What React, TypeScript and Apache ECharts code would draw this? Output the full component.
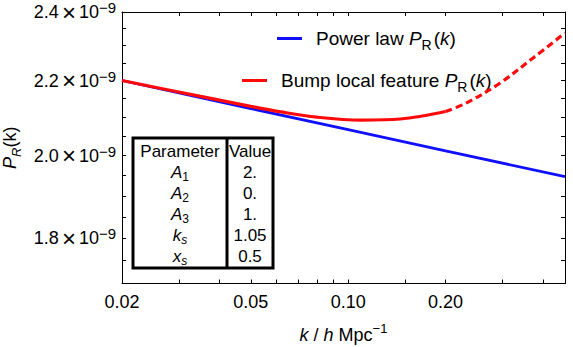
import React, { useEffect, useRef } from 'react';
import * as echarts from 'echarts';

// ---- axes (k in h/Mpc, P in units of 1e-9) ----
const xMin = 0.02;
const xMax = 0.468;
const yMin = 1.7;
const yMax = 2.4;
const xMajorTicks = [0.02, 0.05, 0.1, 0.2];
const xMajorLabels = ['0.02', '0.05', '0.10', '0.20'];
const xMinorTicks = [0.03, 0.04, 0.06, 0.07, 0.08, 0.09, 0.15, 0.3, 0.4];
const yMajorTicks = [1.8, 2.0, 2.2, 2.4];
const yMajorLabels = ['1.8', '2.0', '2.2', '2.4'];
const yMinorTicks = [1.75, 1.85, 1.9, 1.95, 2.05, 2.1, 2.15, 2.25, 2.3, 2.35];
const yExponent = '−9';

// ---- series ----
const kPower = [0.02, 0.05, 0.1, 0.2, 0.468];
const pPower = [2.2, 2.123, 2.067, 2.012, 1.947];

const kBumpSolid = [0.02, 0.035, 0.05, 0.062, 0.08, 0.11, 0.145, 0.2];
const pBumpSolid = [2.2, 2.156, 2.129, 2.114, 2.1, 2.092, 2.095, 2.115];

const kBumpDashed = [0.2, 0.233, 0.295, 0.373, 0.468];
const pBumpDashed = [2.115, 2.139, 2.193, 2.264, 2.337];

// ---- parameter table ----
const tableHeader = ['Parameter', 'Value'];
const paramSymbols = ['A', 'A', 'A', 'k', 'x'];
const paramSubs = ['1', '2', '3', 's', 's'];
const paramSubItalic = [false, false, false, true, true];
const paramValues = ['2.', '0.', '1.', '1.05', '0.5'];

const FONT = '"Liberation Sans", Arial, Helvetica, sans-serif';
const ln = Math.log;

function nearestIndex(arr: number[], v: number) {
  let best = 0;
  let bd = Infinity;
  arr.forEach((a, i) => {
    const d = Math.abs(ln(a) - v);
    if (d < bd) {
      bd = d;
      best = i;
    }
  });
  return best;
}

export default function App() {
  const ref = useRef<HTMLDivElement>(null);

  useEffect(() => {
    if (!ref.current) return;
    const chart = echarts.init(ref.current, undefined, { renderer: 'svg' });

    const gridLeft = 122;
    const gridTop = 12;
    const gridRight = 565;
    const gridBottom = 283.5;

    const axisLineStyle = { color: '#000', width: 1 };
    const xTicks = [...xMajorTicks, ...xMinorTicks].map(ln);
    const yTicks = [...yMajorTicks, ...yMinorTicks].map(ln);

    const mainRich = {
      m: { fontSize: 18, lineHeight: 24, fontFamily: FONT, color: '#000' },
      x: { fontSize: 24, lineHeight: 24, fontFamily: FONT, color: '#000', padding: [0, 3, 0, 3] },
      s: { fontSize: 15, lineHeight: 12, fontFamily: FONT, color: '#000', verticalAlign: 'top' },
    };

    const legendRich = {
      g: { width: 9, fontSize: 19, lineHeight: 26 },
      n: { fontSize: 19, lineHeight: 26, fontFamily: FONT, color: '#000' },
      i: { fontSize: 19, lineHeight: 26, fontFamily: FONT, fontStyle: 'italic', color: '#000' },
      r: { fontSize: 14, lineHeight: 18, fontFamily: FONT, color: '#000', verticalAlign: 'bottom', padding: [0, 2, 0, 0] },
    };

    const legendFormatter = (name: string) =>
      `{g| }{n|${name} }{i|P}{r|R}{n|(}{i|k}{n|)}`;

    const tableRich = {
      n: { fontSize: 17, lineHeight: 22, fontFamily: FONT, color: '#000' },
      i: { fontSize: 17, lineHeight: 22, fontFamily: FONT, color: '#000', fontStyle: 'italic' },
      b: { fontSize: 12, lineHeight: 15, fontFamily: FONT, color: '#000', verticalAlign: 'bottom' },
      bi: { fontSize: 12, lineHeight: 15, fontFamily: FONT, color: '#000', verticalAlign: 'bottom', fontStyle: 'italic' },
    };

    const tL = 133, tT = 138, tR = 273, tB = 268, tDiv = 227;
    const col1 = (tL + tDiv) / 2;
    const col2 = (tDiv + tR) / 2;
    const rowY = (i: number) => 151 + i * 21;

    const tableElements: any[] = [
      {
        type: 'rect',
        shape: { x: tL, y: tT, width: tR - tL, height: tB - tT },
        style: { fill: '#fff', stroke: '#000', lineWidth: 3 },
        z: 10,
      },
      {
        type: 'line',
        shape: { x1: tDiv, y1: tT, x2: tDiv, y2: tB },
        style: { stroke: '#000', lineWidth: 3 },
        z: 11,
      },
      {
        type: 'text',
        x: col1,
        y: rowY(0),
        z: 12,
        style: { text: `{n|${tableHeader[0]}}`, rich: tableRich, align: 'center', verticalAlign: 'middle' },
      },
      {
        type: 'text',
        x: col2,
        y: rowY(0),
        z: 12,
        style: { text: `{n|${tableHeader[1]}}`, rich: tableRich, align: 'center', verticalAlign: 'middle' },
      },
    ];
    paramSymbols.forEach((sym, i) => {
      tableElements.push({
        type: 'text',
        x: col1,
        y: rowY(i + 1),
        z: 12,
        style: {
          text: `{i|${sym}}{${paramSubItalic[i] ? 'bi' : 'b'}|${paramSubs[i]}}`,
          rich: tableRich,
          align: 'center',
          verticalAlign: 'middle',
        },
      });
      tableElements.push({
        type: 'text',
        x: col2,
        y: rowY(i + 1),
        z: 12,
        style: { text: `{n|${paramValues[i]}}`, rich: tableRich, align: 'center', verticalAlign: 'middle' },
      });
    });

    const legendBase = {
      padding: 0,
      icon: 'rect',
      itemWidth: 25,
      itemHeight: 3,
      formatter: legendFormatter,
      textStyle: { rich: legendRich, color: '#000' },
      selectedMode: false,
    };

    const option: any = {
      animation: false,
      backgroundColor: '#fff',
      grid: {
        left: gridLeft,
        top: gridTop,
        width: gridRight - gridLeft,
        height: gridBottom - gridTop,
        containLabel: false,
        outerBoundsMode: 'none',
      },
      legend: [
        { ...legendBase, data: ['Power law'], left: 277, top: 29 },
        { ...legendBase, data: ['Bump local feature'], left: 242, top: 71 },
      ],
      xAxis: [
        {
          type: 'value',
          position: 'bottom',
          min: ln(xMin),
          max: ln(xMax),
          axisLine: { show: true, onZero: false, lineStyle: axisLineStyle },
          axisTick: { show: true, inside: true, length: 4, customValues: xTicks, lineStyle: { color: '#000', width: 1 } },
          axisLabel: {
            show: true,
            customValues: xMajorTicks.map(ln),
            formatter: (v: number) => xMajorLabels[nearestIndex(xMajorTicks, v)],
            margin: 9,
            color: '#000',
            fontSize: 18,
            fontFamily: FONT,
          },
          splitLine: { show: false },
          name: '{i|k}{n| / }{i|h}{n| Mpc}{s|−1}',
          nameLocation: 'middle',
          nameGap: 38,
          nameTextStyle: {
            rich: {
              n: { fontSize: 18, lineHeight: 26, fontFamily: FONT, color: '#000' },
              i: { fontSize: 18, lineHeight: 26, fontFamily: FONT, color: '#000', fontStyle: 'italic' },
              s: { fontSize: 13, lineHeight: 13, fontFamily: FONT, color: '#000', verticalAlign: 'top' },
            },
          },
        },
        {
          type: 'value',
          position: 'top',
          min: ln(xMin),
          max: ln(xMax),
          axisLine: { show: true, onZero: false, lineStyle: axisLineStyle },
          axisTick: { show: true, inside: true, length: 4, customValues: xTicks, lineStyle: { color: '#000', width: 1 } },
          axisLabel: { show: false },
          splitLine: { show: false },
        },
      ],
      yAxis: [
        {
          type: 'value',
          position: 'left',
          min: ln(yMin),
          max: ln(yMax),
          axisLine: { show: true, onZero: false, lineStyle: axisLineStyle },
          axisTick: { show: true, inside: true, length: 4, customValues: yTicks, lineStyle: { color: '#000', width: 1 } },
          axisLabel: {
            show: true,
            customValues: yMajorTicks.map(ln),
            formatter: (v: number) =>
              `{m|${yMajorLabels[nearestIndex(yMajorTicks, v)]}}{x|×}{m|10}{s|${yExponent}}`,
            margin: 6,
            rich: mainRich,
          },
          splitLine: { show: false },
          name: '{i|P}{si|R}{n|(k)}',
          nameLocation: 'middle',
          nameGap: 97,
          nameTextStyle: {
            rich: {
              n: { fontSize: 18, lineHeight: 26, fontFamily: FONT, color: '#000' },
              i: { fontSize: 18, lineHeight: 26, fontFamily: FONT, color: '#000', fontStyle: 'italic' },
              si: { fontSize: 13, lineHeight: 17, fontFamily: FONT, color: '#000', fontStyle: 'italic', verticalAlign: 'bottom' },
            },
          },
        },
        {
          type: 'value',
          position: 'right',
          min: ln(yMin),
          max: ln(yMax),
          axisLine: { show: true, onZero: false, lineStyle: axisLineStyle },
          axisTick: { show: true, inside: true, length: 4, customValues: yTicks, lineStyle: { color: '#000', width: 1 } },
          axisLabel: { show: false },
          splitLine: { show: false },
        },
      ],
      series: [
        {
          name: 'Power law',
          type: 'line',
          xAxisIndex: 0,
          yAxisIndex: 0,
          symbol: 'none',
          data: kPower.map((k, i) => [ln(k), ln(pPower[i])]),
          lineStyle: { color: '#1010ff', width: 2.8 },
          itemStyle: { color: '#1010ff' },
          z: 3,
        },
        {
          name: 'Bump local feature',
          type: 'line',
          xAxisIndex: 0,
          yAxisIndex: 0,
          symbol: 'none',
          smooth: 0.35,
          data: kBumpSolid.map((k, i) => [ln(k), ln(pBumpSolid[i])]),
          lineStyle: { color: '#ff0a0a', width: 3.2 },
          itemStyle: { color: '#ff0a0a' },
          z: 4,
        },
        {
          name: 'Bump local feature (extrapolated)',
          type: 'line',
          xAxisIndex: 0,
          yAxisIndex: 0,
          symbol: 'none',
          smooth: 0.35,
          data: kBumpDashed.map((k, i) => [ln(k), ln(pBumpDashed[i])]),
          lineStyle: { color: '#ff0a0a', width: 3.2, type: [7, 4] },
          itemStyle: { color: '#ff0a0a' },
          z: 4,
        },
      ],
      graphic: tableElements,
    };

    chart.setOption(option);
    return () => chart.dispose();
  }, []);

  return (
    <div
      ref={ref}
      style={{ position: 'absolute', left: 0, top: 0, width: 573, height: 347, background: '#fff' }}
    />
  );
}
